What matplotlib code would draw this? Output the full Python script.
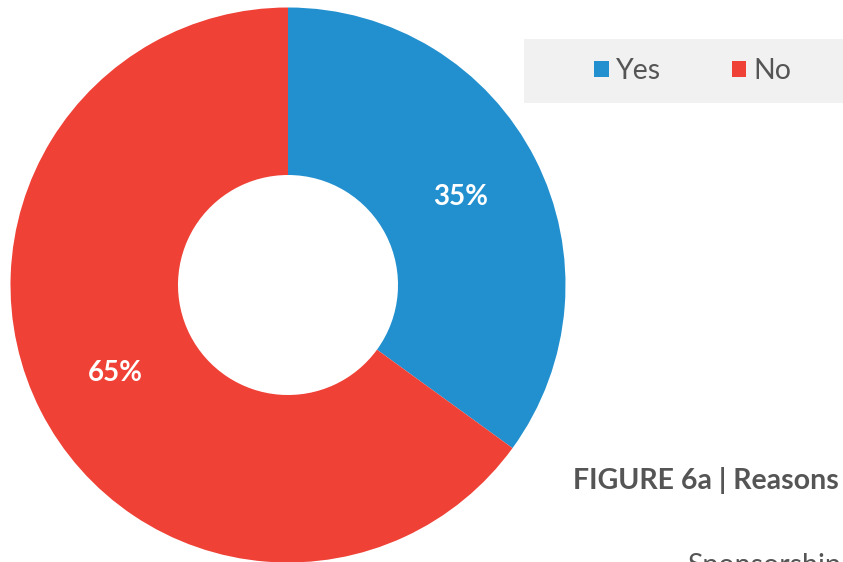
import matplotlib.pyplot as plt
from matplotlib.patches import Rectangle, Patch

plt.rcParams['font.family'] = ['Lato', 'DejaVu Sans']

labels = ["Yes", "No"]
shares = [35, 65]
colors = ["#2290CF", "#EF4136"]

fig = plt.figure(figsize=(8.43, 5.62), dpi=100)
ax = fig.add_axes([0, 0, 1, 1])

outer = 277.5
hole = 110
wedges, texts, autotexts = ax.pie(
    shares, colors=colors, startangle=90, counterclock=False,
    center=(288, 277), radius=outer,
    wedgeprops=dict(width=outer - hole, linewidth=0),
    autopct="%d%%", pctdistance=0.70,
    textprops=dict(color="white", fontsize=20, fontweight="bold"))
ax.set_xlim(0, 843)
ax.set_ylim(0, 562)
ax.set_aspect("equal")
ax.axis("off")

# legend box
fig.patches.append(Rectangle((524 / 843, 1 - 103 / 562), 319 / 843, 64 / 562,
                             transform=fig.transFigure, facecolor="#F1F1F1",
                             edgecolor="none", zorder=0))
handles = [Patch(facecolor=c, edgecolor="none") for c in colors]
fig.legend(handles, labels, loc="center", bbox_to_anchor=(693 / 843, 1 - 71 / 562),
           ncol=2, frameon=False, fontsize=20.5, handlelength=0.5, handleheight=0.5,
           handletextpad=0.25, columnspacing=2.5, labelcolor="#555555")

fig.text(573 / 843, 1 - 481 / 562, "FIGURE 6a | Reasons", fontsize=20.5,
         fontweight="bold", color="#555555", va="center", ha="left")
fig.text(687 / 843, 1 - 553 / 562, "Sponsorship", fontsize=20.5,
         color="#555555", va="top", ha="left")

plt.savefig("out.png")
